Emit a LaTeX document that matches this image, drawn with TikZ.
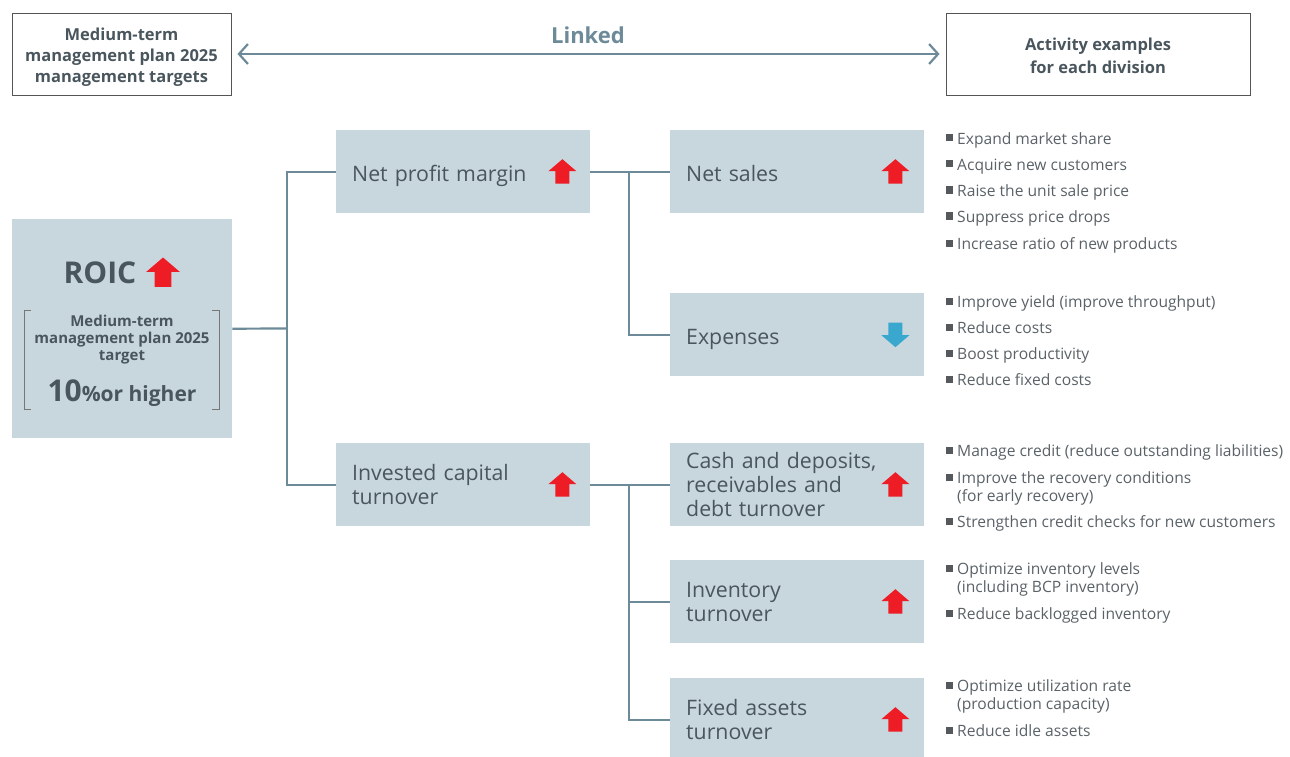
\documentclass[tikz,border=0pt]{standalone}
\usepackage{fontspec}
\setmainfont{Open Sans}
\usetikzlibrary{arrows.meta}
\definecolor{boxfill}{HTML}{C8D6DE}
\definecolor{linec}{HTML}{6C8A98}
\definecolor{txt}{HTML}{4A565D}
\definecolor{btxt}{HTML}{5A6267}
\definecolor{bsqc}{HTML}{55595C}
\definecolor{upred}{HTML}{EE1C25}
\definecolor{downblue}{HTML}{3AA7CF}
\definecolor{framec}{HTML}{555555}
\newcommand\bsq{\raisebox{2.5pt}{\textcolor{bsqc}{\rule{7pt}{7pt}}}\hspace{4pt}}
\newcommand\onel{\rule[-5pt]{0pt}{29pt}}
\begin{document}
\begin{tikzpicture}[x=1pt,y=-1pt,
  box/.style={fill=boxfill, minimum width=254pt, minimum height=83pt, anchor=north west,
    inner xsep=16pt, inner ysep=0pt, text width=222pt, align=left, text=txt,
    font=\fontsize{21.3pt}{24pt}\selectfont},
  hdr/.style={draw=framec, line width=0.9pt, text=txt, align=center,
    font=\bfseries\fontsize{16.5pt}{21pt}\selectfont},
  conn/.style={draw=linec, line width=2.2pt},
  item/.style={anchor=base west, inner sep=0pt, text=btxt,
    font=\fontsize{15.6pt}{18pt}\selectfont},
  upmark/.pic={\fill[upred] (0,-12.5) -- (14,-0.5) -- (7,-0.5) -- (7,12) -- (-7,12) -- (-7,-0.5) -- (-14,-0.5) -- cycle;},
  downmark/.pic={\fill[downblue] (0,12.5) -- (14,0.5) -- (7,0.5) -- (7,-12) -- (-7,-12) -- (-7,0.5) -- (-14,0.5) -- cycle;}
]
\useasboundingbox (0,0) rectangle (1290,757);

% headers
\node[hdr, minimum width=219pt, minimum height=82pt] (hdrL) at (121.5,54) {\rule{0pt}{18.5pt}Medium-term\\management plan 2025\\management targets};
\node[hdr, minimum width=304pt, minimum height=82pt, font=\bfseries\fontsize{16.5pt}{23pt}\selectfont] (hdrR) at (1098,54) {\rule{0pt}{16.5pt}Activity examples\\for each division};
\draw[linec, line width=2.2pt, {Straight Barb[length=9pt,width=20pt,line width=2.2pt]}-{Straight Barb[length=9pt,width=20pt,line width=2.2pt]}]
  ([xshift=6pt]hdrL.east) -- ([xshift=-6pt]hdrR.west);
\node[text=linec, font=\bfseries\fontsize{22pt}{24pt}\selectfont] (linked) at (588,35) {Linked};

% ROIC block
\node[fill=boxfill, minimum width=220pt, minimum height=219pt, anchor=north west, inner sep=0pt] (roic) at (12,219) {};
\node[anchor=base, text=txt, font=\bfseries\fontsize{30pt}{32pt}\selectfont] (roict) at (100,283) {ROIC};
\pic[scale=1.2] at (163,272.5) {upmark};
\draw[framec!80, line width=0.8pt] (31,310) -- (24,310) -- (24,409) -- (31,409);
\draw[framec!80, line width=0.8pt] (212,310) -- (219,310) -- (219,409) -- (212,409);
\node[text=txt, align=center, font=\bfseries\fontsize{15pt}{17pt}\selectfont] (roicsub) at (122,340) {Medium-term\\management plan 2025\\target};
\node[anchor=base, text=txt, font=\bfseries, inner sep=0pt] (roicval) at (122,401) {{\fontsize{30pt}{32pt}\selectfont 10}{\fontsize{21pt}{24pt}\selectfont\%or higher}};

% level 2
\node[box] (npm) at (336,130) {\onel Net profit margin};
\node[box] (ict) at (336,443) {Invested capital\\turnover};
\pic at ([xshift=-28pt]npm.east) {upmark};
\pic at ([xshift=-28pt]ict.east) {upmark};

% level 3
\node[box] (ns) at (670,130) {\onel Net sales};
\node[box] (exp) at (670,293) {\onel Expenses};
\node[box] (cash) at (670,443) {Cash and deposits,\\receivables and\\debt turnover};
\node[box] (inv) at (670,560) {Inventory\\turnover};
\node[box] (fa) at (670,678) {Fixed assets\\turnover};
\pic at ([xshift=-29pt]ns.east) {upmark};
\pic at ([xshift=-29pt]exp.east) {downmark};
\pic at ([xshift=-29pt]cash.east) {upmark};
\pic at ([xshift=-29pt]inv.east) {upmark};
\pic at ([xshift=-29pt]fa.east) {upmark};

% connectors
\coordinate (j1) at (287,328.5);
\coordinate (j2) at (629,171.5);
\coordinate (j3) at (629,484.5);
\draw[conn] (roic.east) -- (j1);
\draw[conn] (npm.west) -| (j1) |- (ict.west);
\draw[conn] (npm.east) -- (ns.west);
\draw[conn] (j2) |- (exp.west);
\draw[conn] (ict.east) -- (cash.west);
\draw[conn] (j3) |- (inv.west);
\draw[conn] (j3) |- (fa.west);

% bullet lists
\node[item] (b1) at (946,144) {\bsq Expand market share};
\node[item] (b2) at (946,170) {\bsq Acquire new customers};
\node[item] (b3) at (946,196) {\bsq Raise the unit sale price};
\node[item] (b4) at (946,222) {\bsq Suppress price drops};
\node[item] (b5) at (946,249) {\bsq Increase ratio of new products};

\node[item] (e1) at (946,307) {\bsq Improve yield (improve throughput)};
\node[item] (e2) at (946,333) {\bsq Reduce costs};
\node[item] (e3) at (946,359) {\bsq Boost productivity};
\node[item] (e4) at (946,385) {\bsq Reduce fixed costs};

\node[item] (c1) at (946,456) {\bsq Manage credit (reduce outstanding liabilities)};
\node[item] (c2) at (946,483) {\bsq\begin{tabular}[t]{@{}l@{}}Improve the recovery conditions\\(for early recovery)\end{tabular}};
\node[item] (c3) at (946,527) {\bsq Strengthen credit checks for new customers};

\node[item] (i1) at (946,574) {\bsq\begin{tabular}[t]{@{}l@{}}Optimize inventory levels\\(including BCP inventory)\end{tabular}};
\node[item] (i2) at (946,619) {\bsq Reduce backlogged inventory};

\node[item] (f1) at (946,691) {\bsq\begin{tabular}[t]{@{}l@{}}Optimize utilization rate\\(production capacity)\end{tabular}};
\node[item] (f2) at (946,736) {\bsq Reduce idle assets};
\end{tikzpicture}
\end{document}
